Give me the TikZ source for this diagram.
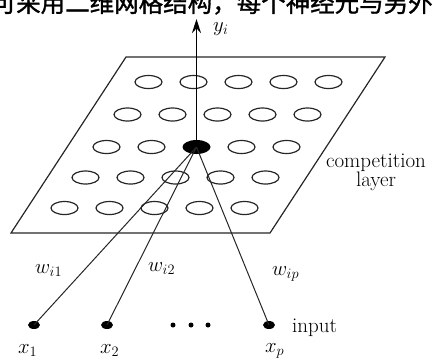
\documentclass[tikz,border=0pt]{standalone}
\usepackage{fontspec}
\newfontfamily\cjk[FakeBold=1.2]{Noto Sans CJK SC}
\usetikzlibrary{arrows.meta,shapes.geometric}
\begin{document}
\begin{tikzpicture}[x=1pt,y=-1pt,
  cell/.style={draw=black!85, line width=1.2pt, ellipse, minimum width=27pt, minimum height=13pt, inner sep=0pt},
  winner/.style={fill=black, ellipse, minimum width=28pt, minimum height=14pt, inner sep=0pt},
  inp/.style={fill=black, ellipse, minimum width=12pt, minimum height=8pt, inner sep=0pt},
  dot/.style={fill=black, circle, minimum size=5pt, inner sep=0pt},
  conn/.style={draw=black!85, line width=1pt},
  lbl/.style={anchor=base west, inner sep=0pt, font=\fontsize{20}{24}\selectfont},
  txt/.style={inner sep=0pt, font=\fontsize{21}{19}\selectfont}]
\useasboundingbox (0,0) rectangle (433,360);
\clip (0,0) rectangle (433,360);
% cropped caption line at the top
\node[anchor=base west, inner sep=0pt, font=\cjk\fontsize{24.5}{28}\selectfont] (cap) at (-8.5,12) {可采用二维网格结构，每个神经元与另外};
% competition layer plane
\coordinate (p1) at (126,57);
\coordinate (p2) at (385,57);
\coordinate (p3) at (270,233);
\coordinate (p4) at (11,233);
\draw[black!85, line width=1.2pt] (p1) -- (p2) -- (p3) -- (p4) -- cycle;
% neurons
\foreach \r/\yy/\xs in {0/82/148.5, 1/114.5/127.5, 2/147/106.5, 3/177.5/85.5, 4/208/64.5}{
  \foreach \cc in {0,...,4}{
    \ifnum\r\cc=22 \else
      \node[cell] (n\r\cc) at ({\xs+45*\cc},\yy) {};
    \fi
  }
}
\node[winner] (win) at (196.5,147) {};
% output arrow
\coordinate (top) at (196.5,19);
\draw[line width=1.7pt, -{Stealth[length=14pt,width=9pt]}] (win.center) -- (top);
\node[lbl] (yi) at (213,31) {$y_i$};
% inputs
\node[inp] (x1) at (34,325) {};
\node[inp] (x2) at (107,325) {};
\node[inp] (xp) at (269,325) {};
\node[dot] (d1) at (173,325) {};
\node[dot] (d2) at (191,325) {};
\node[dot] (d3) at (208,325) {};
\draw[conn] (win.center) -- (x1.center);
\draw[conn] (win.center) -- (x2.center);
\draw[conn] (win.center) -- (xp.center);
% labels
\node[lbl] (w1) at (35,273) {$w_{i1}$};
\node[lbl] (w2) at (148,271) {$w_{i2}$};
\node[lbl] (wp) at (272,275) {$w_{ip}$};
\node[lbl] (lx1) at (18,353) {$x_1$};
\node[lbl] (lx2) at (100,353) {$x_2$};
\node[lbl] (lxp) at (265,352) {$x_p$};
\node[txt, anchor=base west] (inlbl) at (292,332) {input};
\node[txt, align=center, anchor=north] (comp) at (376,154) {competition\\layer};
\end{tikzpicture}
\end{document}
